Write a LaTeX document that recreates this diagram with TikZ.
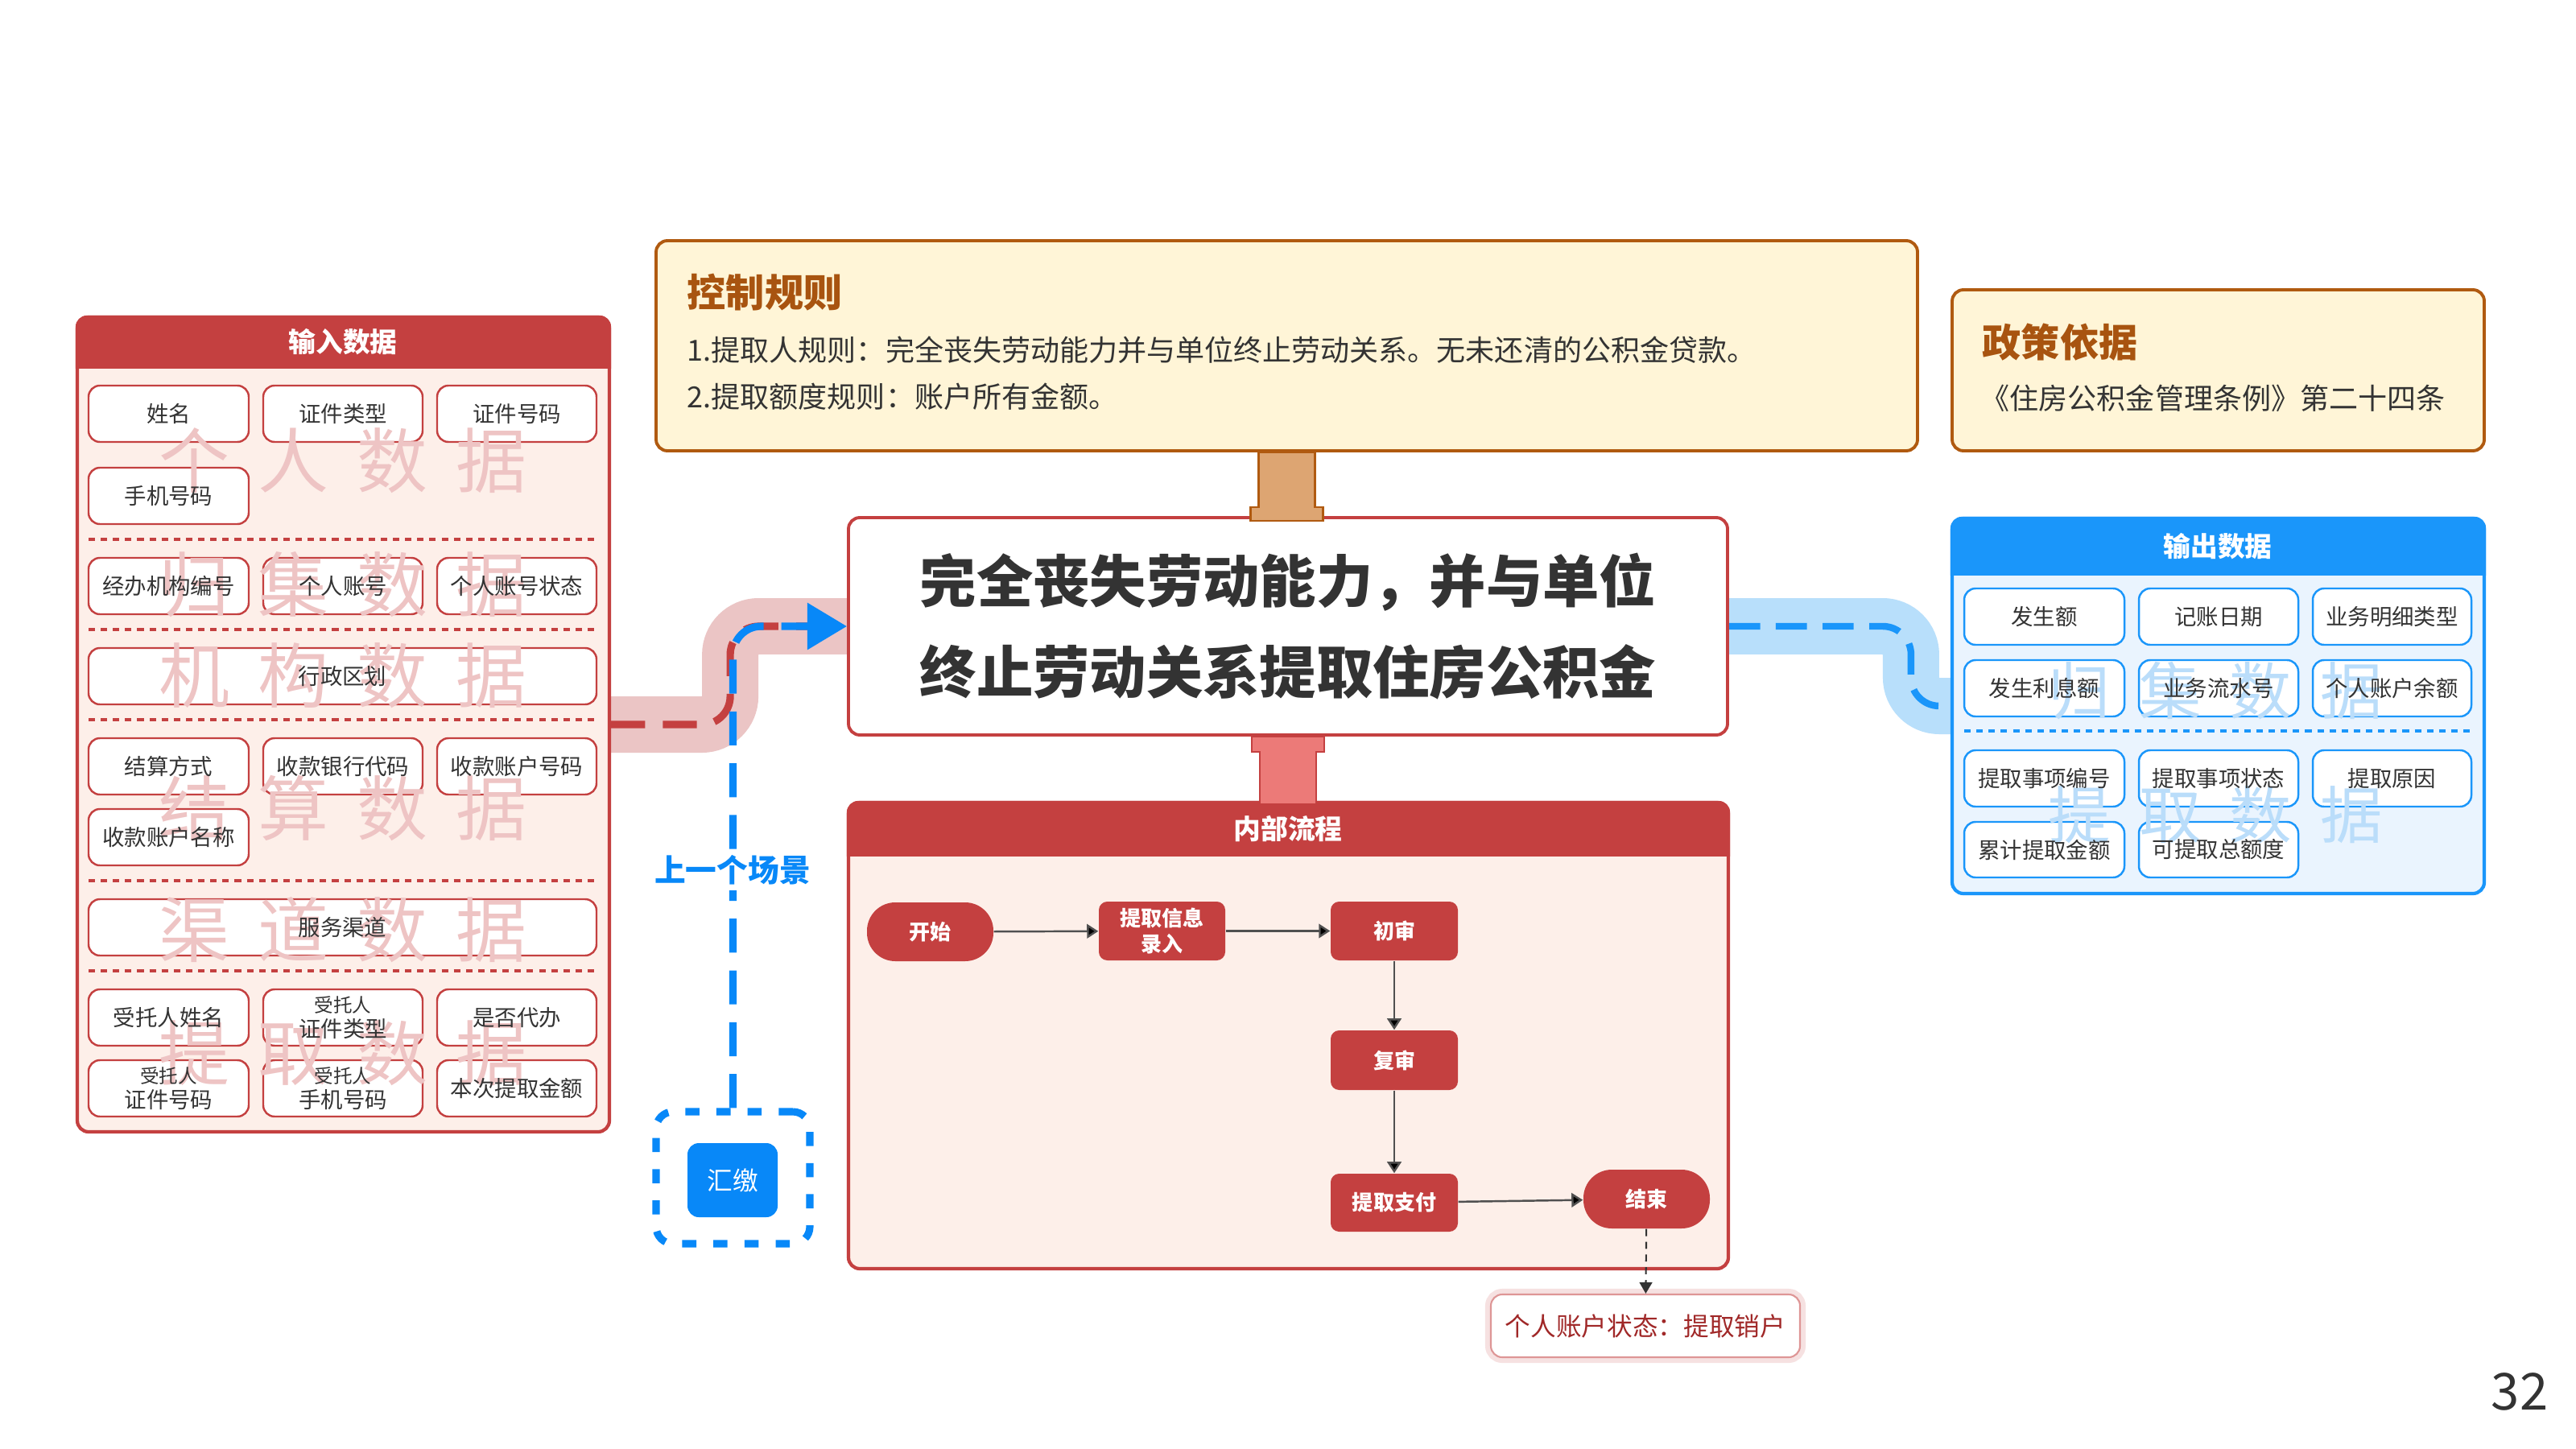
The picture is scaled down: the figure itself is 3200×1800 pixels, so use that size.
\documentclass[tikz,border=0pt]{standalone}
\usepackage{fontspec}
\setmainfont{Noto Sans CJK SC}
\usetikzlibrary{arrows.meta,fit}
\pgfdeclarelayer{bg}
\pgfdeclarelayer{wm}
\pgfdeclarelayer{top}
\pgfsetlayers{bg,main,wm,top}
\definecolor{cred}{RGB}{196,64,64}
\definecolor{cpbg}{RGB}{253,239,233}
\definecolor{ctext}{RGB}{51,51,51}
\definecolor{cbrown}{RGB}{176,90,16}
\definecolor{ctbrown}{RGB}{168,84,16}
\definecolor{ccream}{RGB}{255,245,215}
\definecolor{ctan}{RGB}{221,165,114}
\definecolor{csalmon}{RGB}{236,122,120}
\definecolor{cblue}{RGB}{26,150,250}
\definecolor{cblue2}{RGB}{8,136,248}
\definecolor{cbbg}{RGB}{234,244,254}
\definecolor{cbband}{RGB}{184,223,251}
\definecolor{cpband}{RGB}{235,197,197}
\definecolor{cwmred}{RGB}{238,196,196}
\definecolor{cwmblue}{RGB}{186,221,250}
\definecolor{cdarkred}{RGB}{160,40,40}
\definecolor{cshadow}{RGB}{236,190,190}
\newcommand\mybox[5]{%
  \node[#1, fit={#3 #4}] (#2) {};
  \begin{pgfonlayer}{top}\node[#1txt] (#2t) at (#2.center) {#5};\end{pgfonlayer}}
\newcommand\wmtext[5]{#2\hspace{#1}#3\hspace{#1}#4\hspace{#1}#5}
\newcommand\twol[2]{\fontsize{6.7}{7.7}\selectfont #1\\#2}
\begin{document}
\begin{tikzpicture}[x=0.01cm,y=-0.01cm,
  panelr/.style={fill=cpbg, draw=cred, line width=1.2pt, rounded corners=4pt, inner sep=0pt},
  panelb/.style={fill=cbbg, draw=cblue, line width=1.2pt, rounded corners=4pt, inner sep=0pt},
  htext/.style={text=white, font=\bfseries\fontsize{9.6}{11}\selectfont, inner sep=0pt},
  ib/.style={draw=cred, line width=0.7pt, fill=white, rounded corners=4pt, inner sep=0pt},
  ibtxt/.style={text=ctext, font=\fontsize{7.8}{9}\selectfont, align=center, inner sep=0pt},
  ob/.style={draw=cblue, line width=0.7pt, fill=white, rounded corners=4pt, inner sep=0pt},
  obtxt/.style={text=ctext, font=\fontsize{7.8}{9}\selectfont, align=center, inner sep=0pt},
  sepr/.style={draw=cred, line width=1pt, dash pattern=on 2.3pt off 2pt},
  sepb/.style={draw=cblue, line width=1pt, dash pattern=on 2.3pt off 2pt},
  wmr/.style={text=cwmred, font=\fontsize{25}{25}\selectfont, inner sep=0pt},
  wmb/.style={text=cwmblue, font=\fontsize{22}{22}\selectfont, inner sep=0pt},
  cbox/.style={fill=ccream, draw=cbrown, line width=1.1pt, rounded corners=4pt, inner sep=0pt},
  ctitle/.style={anchor=west, text=ctbrown, font=\bfseries\fontsize{13.7}{15}\selectfont, inner sep=0pt},
  cline/.style={anchor=west, text=ctext, font=\fontsize{10.25}{12}\selectfont, inner sep=0pt},
  tbox/.style={fill=white, draw=cred, line width=1.1pt, rounded corners=4pt, inner sep=0pt},
  tboxtxt/.style={text=ctext, font=\bfseries\fontsize{20}{32}\selectfont, align=center, inner sep=0pt},
  fnode/.style={fill=cred, rounded corners=3pt, inner sep=0pt},
  fnodetxt/.style={text=white, font=\bfseries\fontsize{7.4}{9}\selectfont, align=center, inner sep=0pt},
  fpill/.style={fnode, rounded corners=10pt},
  fpilltxt/.style={fnodetxt},
  farrow/.style={draw={rgb,255:red,80;green,80;blue,80}, line width=0.7pt, -{Triangle[length=4pt,width=5pt,fill=black]}},
  sbox/.style={fill=white, draw={rgb,255:red,222;green,150;blue,150}, line width=0.6pt, rounded corners=4pt, preaction={draw=cshadow, line width=4pt, opacity=0.45}, inner sep=0pt},
  sboxtxt/.style={text=cdarkred, font=\fontsize{9}{10}\selectfont, inner sep=0pt},
  hjn/.style={fill=cblue2, rounded corners=4pt, inner sep=0pt},
  hjntxt/.style={text=white, font=\fontsize{9}{10}\selectfont, inner sep=0pt},
  pband/.style={draw=cpband, line width=19.9pt, rounded corners=10pt},
  bband/.style={draw=cbband, line width=19.9pt, rounded corners=10pt},
  pdash/.style={draw=cred, line width=2.6pt, dash pattern=on 12pt off 6.3pt, rounded corners=10pt},
  bdash/.style={draw=cblue2, line width=2.6pt, dash pattern=on 12pt off 6.3pt, rounded corners=10pt},
  bdash2/.style={draw=cblue, line width=2.4pt, dash pattern=on 11pt off 5.5pt, rounded corners=10pt}
]
\useasboundingbox (0,0) rectangle (3200,1800);
\begin{pgfonlayer}{bg}
\fill[white] (0,0) rectangle (3200,1800);
\end{pgfonlayer}

% ---------------- input panel ----------------
\node[panelr, fit={(96,394) (757,1406)}] (inp) {};
\begin{scope}
\clip (inp.north west) rectangle (inp.east |- 0,457);
\fill[cred, rounded corners=4pt] (inp.north west) rectangle (inp.south east);
\end{scope}
\node[htext] (inph) at (426,425) {输入数据};
\draw[sepr] (110,670) -- (741,670);
\draw[sepr] (110,782) -- (741,782);
\draw[sepr] (110,894) -- (741,894);
\draw[sepr] (110,1094) -- (741,1094);
\draw[sepr] (110,1206) -- (741,1206);
\mybox{ib}{i11}{(110,479)}{(309,549)}{姓名}
\mybox{ib}{i12}{(327,479)}{(525,549)}{证件类型}
\mybox{ib}{i13}{(543,479)}{(741,549)}{证件号码}
\mybox{ib}{i21}{(110,581)}{(309,651)}{手机号码}
\mybox{ib}{i31}{(110,693)}{(309,763)}{经办机构编号}
\mybox{ib}{i32}{(327,693)}{(525,763)}{个人账号}
\mybox{ib}{i33}{(543,693)}{(741,763)}{个人账号状态}
\mybox{ib}{i41}{(110,805)}{(741,875)}{行政区划}
\mybox{ib}{i51}{(110,917)}{(309,987)}{结算方式}
\mybox{ib}{i52}{(327,917)}{(525,987)}{收款银行代码}
\mybox{ib}{i53}{(543,917)}{(741,987)}{收款账户号码}
\mybox{ib}{i61}{(110,1005)}{(309,1075)}{收款账户名称}
\mybox{ib}{i71}{(110,1117)}{(741,1187)}{服务渠道}
\mybox{ib}{i81}{(110,1229)}{(309,1299)}{受托人姓名}
\mybox{ib}{i82}{(327,1229)}{(525,1299)}{\twol{受托人}{证件类型}}
\mybox{ib}{i83}{(543,1229)}{(741,1299)}{是否代办}
\mybox{ib}{i91}{(110,1317)}{(309,1387)}{\twol{受托人}{证件号码}}
\mybox{ib}{i92}{(327,1317)}{(525,1387)}{\twol{受托人}{手机号码}}
\mybox{ib}{i93}{(543,1317)}{(741,1387)}{本次提取金额}

% ---------------- output panel ----------------
\node[panelb, fit={(2425,644) (3086,1110)}] (outp) {};
\begin{scope}
\clip (outp.north west) rectangle (outp.east |- 0,714);
\fill[cblue, rounded corners=4pt] (outp.north west) rectangle (outp.south east);
\end{scope}
\node[htext] (outph) at (2755,679) {输出数据};
\draw[sepb] (2440,908) -- (3070,908);
\mybox{ob}{o11}{(2440,731)}{(2639,801)}{发生额}
\mybox{ob}{o12}{(2657,731)}{(2855,801)}{记账日期}
\mybox{ob}{o13}{(2873,731)}{(3070,801)}{业务明细类型}
\mybox{ob}{o21}{(2440,820)}{(2639,890)}{发生利息额}
\mybox{ob}{o22}{(2657,820)}{(2855,890)}{业务流水号}
\mybox{ob}{o23}{(2873,820)}{(3070,890)}{个人账户余额}
\mybox{ob}{o31}{(2440,932)}{(2639,1002)}{提取事项编号}
\mybox{ob}{o32}{(2657,932)}{(2855,1002)}{提取事项状态}
\mybox{ob}{o33}{(2873,932)}{(3070,1002)}{提取原因}
\mybox{ob}{o41}{(2440,1021)}{(2639,1090)}{累计提取金额}
\mybox{ob}{o42}{(2657,1021)}{(2855,1090)}{可提取总额度}

% ---------------- watermarks ----------------
\begin{pgfonlayer}{wm}
\node[wmr] (w1) at (426,572) {\wmtext{10pt}{个}{人}{数}{据}};
\node[wmr] (w2) at (426,726) {\wmtext{10pt}{归}{集}{数}{据}};
\node[wmr] (w3) at (426,839) {\wmtext{10pt}{机}{构}{数}{据}};
\node[wmr] (w4) at (426,1004) {\wmtext{10pt}{结}{算}{数}{据}};
\node[wmr] (w5) at (426,1155) {\wmtext{10pt}{渠}{道}{数}{据}};
\node[wmr] (w6) at (426,1308) {\wmtext{10pt}{提}{取}{数}{据}};
\node[wmb] (w7) at (2752,858) {\wmtext{10pt}{归}{集}{数}{据}};
\node[wmb] (w8) at (2752,1012) {\wmtext{10pt}{提}{取}{数}{据}};
\end{pgfonlayer}

% ---------------- control rules / policy ----------------
\node[cbox, fit={(815,299) (2382,560)}] (ctrl) {};
\node[ctitle] (ctrlt) at (853,363) {控制规则};
\node[cline] (ctrl1) at (853,435) {1.提取人规则：完全丧失劳动能力并与单位终止劳动关系。无未还清的公积金贷款。};
\node[cline] (ctrl2) at (853,493) {2.提取额度规则：账户所有金额。};
\node[cbox, fit={(2425,360) (3086,560)}] (pol) {};
\node[ctitle] (polt) at (2462,425) {政策依据};
\node[cline] (pol1) at (2460,495) {《住房公积金管理条例》第二十四条};

% ---------------- central title ----------------
\mybox{tbox}{title}{(1054,643)}{(2146,913)}{完全丧失劳动能力，并与单位\\终止劳动关系提取住房公积金}

% ---------------- internal process ----------------
\node[panelr, fit={(1054,997) (2147,1576)}] (proc) {};
\begin{scope}
\clip (proc.north west) rectangle (proc.east |- 0,1063);
\fill[cred, rounded corners=4pt] (proc.north west) rectangle (proc.south east);
\end{scope}
\node[htext] (proch) at (1600,1030) {内部流程};
\mybox{fpill}{fs}{(1077,1121)}{(1234,1194)}{开始}
\mybox{fnode}{fe}{(1365,1120)}{(1522,1193)}{提取信息\\录入}
\mybox{fnode}{f1}{(1653,1120)}{(1811,1193)}{初审}
\mybox{fnode}{f2}{(1653,1280)}{(1811,1354)}{复审}
\mybox{fnode}{f3}{(1653,1458)}{(1811,1530)}{提取支付}
\mybox{fpill}{fend}{(1967,1453)}{(2124,1526)}{结束}
\draw[farrow] (fs) -- (fe);
\draw[farrow] (fe) -- (f1);
\draw[farrow] (f1) -- (f2);
\draw[farrow] (f2) -- (f3);
\draw[farrow] (f3) -- (fend);
\mybox{sbox}{stat}{(1852,1608)}{(2236,1686)}{个人账户状态：提取销户}
\draw[draw=ctext, line width=0.6pt, dash pattern=on 2.5pt off 2pt, -{Triangle[length=4pt,width=4.5pt]}] (fend) -- (stat);

% ---------------- tabs ----------------
\draw[fill=ctan, draw=cbrown, line width=0.8pt] (ctrl.south) ++(-35,0) -- ++(0,68) -- ++(-10,0) -- ++(0,17) -- ++(90,0) -- ++(0,-17) -- ++(-10,0) -- ++(0,-68) -- cycle;
\draw[fill=csalmon, draw=cred, line width=0.8pt] (title.south) ++(-45,0) -- ++(0,19) -- ++(10,0) -- ++(0,65) -- ++(70,0) -- ++(0,-65) -- ++(10,0) -- ++(0,-19) -- cycle;

% ---------------- previous scene ----------------
\node[draw=cblue2, line width=2.6pt, dash pattern=on 5pt off 6pt, rounded corners=6pt, inner sep=0pt, fit={(815,1381) (1006,1545)}] (hj) {};
\mybox{hjn}{hjb}{(854,1420)}{(966,1512)}{汇缴}

% ---------------- bands ----------------
\begin{pgfonlayer}{bg}
\draw[pband] (inp.east) -- ++(148,0) |- (title.west);
\draw[pdash] (inp.east) -- ++(148,0) |- (title.west);
\draw[bdash, -{Triangle[length=14pt,width=16pt]}] (hj.north) |- (title.west);
\draw[bband] (title.east) -- ++(226,0) |- (outp.west);
\draw[bdash2] (title.east) -- ++(226,0) |- (outp.west);
\end{pgfonlayer}
\node[fill=white, inner sep=2pt, text=cblue2, font=\bfseries\fontsize{11}{12}\selectfont] (prev) at (910,1081) {上一个场景};

% ---------------- page number ----------------
\node[text=ctext, font=\fontsize{18}{20}\selectfont, inner sep=0pt] (pg) at (3130,1729) {32};
\end{tikzpicture}
\end{document}
